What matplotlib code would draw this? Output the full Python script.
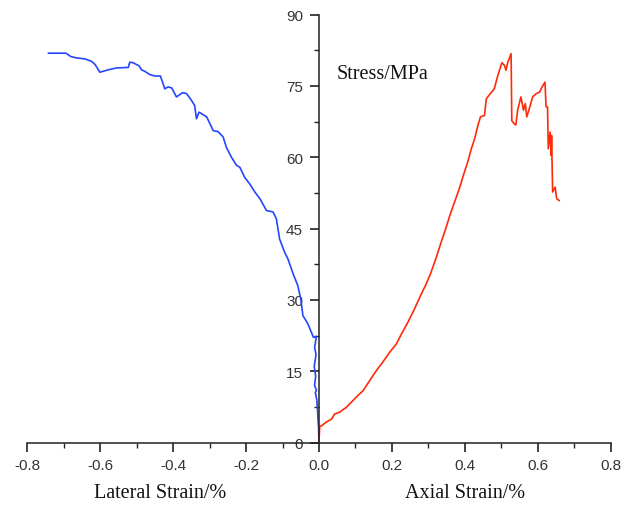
import matplotlib
matplotlib.use("Agg")
import matplotlib.pyplot as plt
from matplotlib.ticker import MultipleLocator, FormatStrFormatter

plt.rcParams["axes.unicode_minus"] = False

# lateral strain (%) vs stress (MPa)
lat_strain = [-0.742, -0.694, -0.681, -0.665, -0.642, -0.624, -0.614, -0.601,
              -0.578, -0.555, -0.523, -0.519, -0.510, -0.493, -0.487, -0.478,
              -0.464, -0.450, -0.435, -0.429, -0.423, -0.414, -0.404, -0.391,
              -0.374, -0.363, -0.350, -0.341, -0.336, -0.329, -0.308, -0.290,
              -0.277, -0.263, -0.254, -0.240, -0.226, -0.217, -0.204, -0.190,
              -0.176, -0.162, -0.144, -0.126, -0.117, -0.108, -0.094, -0.085,
              -0.071, -0.058, -0.050, -0.044, -0.030, -0.021, -0.015, -0.007,
              -0.012, -0.008, -0.013, -0.009, -0.012, -0.007, -0.010, -0.006,
              -0.004, -0.003, -0.001, 0.0]
lat_stress = [81.9, 81.9, 81.2, 80.9, 80.7, 80.2, 79.5, 77.9,
              78.4, 78.8, 78.9, 80.0, 79.9, 79.2, 78.4, 78.1,
              77.4, 77.1, 77.1, 75.8, 74.4, 74.8, 74.6, 72.7,
              73.6, 73.4, 72.0, 70.9, 68.1, 69.5, 68.5, 65.6,
              65.4, 64.3, 62.1, 60.0, 58.3, 57.9, 55.8, 54.4,
              52.7, 51.3, 48.8, 48.5, 47.1, 42.8, 40.0, 38.6,
              35.5, 33.0, 30.2, 26.7, 24.9, 23.2, 22.1, 22.3,
              20.0, 18.5, 16.0, 14.0, 12.0, 11.0, 10.5, 9.0,
              7.0, 5.5, 3.0, 0.0]

# axial strain (%) vs stress (MPa)
ax_strain = [0.0, 0.002, 0.007, 0.020, 0.034, 0.043, 0.057, 0.075, 0.089,
             0.107, 0.121, 0.139, 0.157, 0.175, 0.194, 0.212, 0.226, 0.244,
             0.262, 0.281, 0.292, 0.306, 0.322, 0.335, 0.349, 0.360, 0.372,
             0.385, 0.399, 0.408, 0.418, 0.427, 0.436, 0.443, 0.454, 0.459,
             0.470, 0.481, 0.488, 0.495, 0.502, 0.509, 0.513, 0.518, 0.527,
             0.529, 0.535, 0.540, 0.545, 0.554, 0.561, 0.566, 0.570, 0.577,
             0.586, 0.596, 0.605, 0.612, 0.620, 0.623, 0.627, 0.629, 0.634,
             0.637, 0.638, 0.641, 0.648, 0.652, 0.659]
ax_stress = [0.0, 3.4, 3.5, 4.3, 4.9, 6.0, 6.4, 7.4, 8.5,
             9.9, 10.9, 13.0, 15.1, 16.9, 19.0, 20.7, 22.8, 25.3,
             28.1, 31.3, 33.0, 35.5, 39.0, 42.1, 45.3, 48.0, 50.6,
             53.4, 56.9, 59.0, 61.8, 63.9, 66.7, 68.5, 68.8, 72.3,
             73.4, 74.4, 76.5, 78.3, 79.9, 79.3, 78.3, 80.0, 81.8,
             67.7, 67.1, 66.8, 69.9, 72.7, 69.9, 71.3, 68.5, 70.2,
             72.7, 73.4, 73.7, 74.8, 75.8, 70.6, 70.6, 61.8, 65.3,
             60.4, 64.6, 52.7, 53.7, 51.3, 50.9]

fig = plt.figure(figsize=(6.34, 5.06), dpi=100)
ax = fig.add_axes([0.0431, 0.1235, 0.92, 0.8455])

ax.plot(lat_strain, lat_stress, color="#2446ff", lw=1.2)
ax.plot(ax_strain, ax_stress, color="#ff2a08", lw=1.2)

ax.set_xlim(-0.8, 0.8)
ax.set_ylim(0, 90)

ax.spines["left"].set_position(("data", 0))
ax.spines["top"].set_visible(False)
ax.spines["right"].set_visible(False)
for s in ["left", "bottom"]:
    ax.spines[s].set_linewidth(1.1)
    ax.spines[s].set_color("#222222")

ax.xaxis.set_major_locator(MultipleLocator(0.2))
ax.xaxis.set_minor_locator(MultipleLocator(0.1))
ax.yaxis.set_major_locator(MultipleLocator(15))
ax.yaxis.set_minor_locator(MultipleLocator(7.5))
ax.xaxis.set_major_formatter(FormatStrFormatter("%.1f"))
ax.yaxis.set_major_formatter(FormatStrFormatter("%d"))

ax.tick_params(which="major", direction="out", length=6.5, width=1.2,
               color="#222222", labelsize=11, labelcolor="#333333", pad=5)
ax.tick_params(which="minor", direction="out", length=3.5, width=1.0,
               color="#222222")
for lab in ax.get_xticklabels() + ax.get_yticklabels():
    lab.set_family("Liberation Sans")

ax.text(0.175, 77.7, "Stress/MPa", family="Liberation Serif", fontsize=14.5,
        ha="center", va="center", color="#111111")
fig.text(0.252, 0.024, "Lateral Strain/%", family="Liberation Serif",
         fontsize=14.5, ha="center", va="center", color="#111111")
fig.text(0.733, 0.024, "Axial Strain/%", family="Liberation Serif",
         fontsize=14.5, ha="center", va="center", color="#111111")

fig.savefig("out.png", dpi=100)
